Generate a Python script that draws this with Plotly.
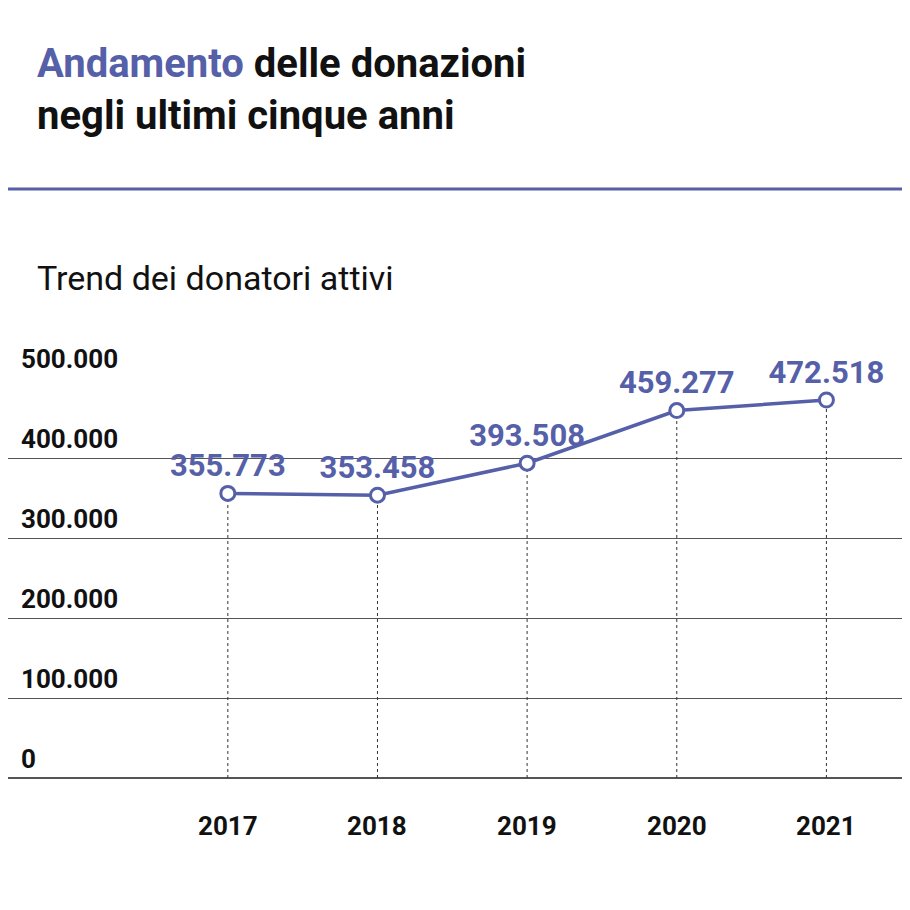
import plotly.graph_objects as go

years = ["2017", "2018", "2019", "2020", "2021"]
donors = [355773, 353458, 393508, 459277, 472518]
labels = ["355.773", "353.458", "393.508", "459.277", "472.518"]
y_ticks = [0, 100000, 200000, 300000, 400000, 500000]
y_tick_labels = ["0", "100.000", "200.000", "300.000", "400.000", "500.000"]

blue = "#5560a8"
font = "Roboto"
xs = list(range(len(years)))

fig = go.Figure()

# dotted drop lines
for x, v in zip(xs, donors):
    fig.add_trace(go.Scatter(x=[x, x], y=[0, v], mode="lines",
                             line=dict(color="#333", width=1, dash="dot"),
                             hoverinfo="skip", showlegend=False))

fig.add_trace(go.Scatter(
    x=xs, y=donors, mode="lines+markers+text",
    line=dict(color=blue, width=3.5),
    marker=dict(size=14, color="white", line=dict(color=blue, width=3)),
    text=["<b>%s</b>" % t for t in labels], textposition="top center",
    textfont=dict(family=font, size=31, color=blue),
    cliponaxis=False, showlegend=False))

for v, t in zip(y_ticks, y_tick_labels):
    fig.add_annotation(x=0.012, xref="paper", y=v, yref="y", text="<b>%s</b>" % t,
                       showarrow=False, xanchor="left", yanchor="bottom", yshift=2,
                       font=dict(family=font, size=26, color="#111"))

for x, yr in zip(xs, years):
    fig.add_annotation(x=x, y=0, yref="y", text="<b>%s</b>" % yr, showarrow=False,
                       yanchor="middle", yshift=-48,
                       font=dict(family=font, size=26, color="#111"))

fig.add_annotation(x=0.03, xref="paper", y=1.85, yref="paper", xanchor="left", yanchor="top",
                   align="left", showarrow=False,
                   text="<b><span style='color:%s'>Andamento</span> delle donazioni<br>negli ultimi cinque anni</b>" % blue,
                   font=dict(family=font, size=40, color="#111"))
fig.add_annotation(x=0.03, xref="paper", y=1.25, yref="paper", xanchor="left", yanchor="middle",
                   showarrow=False, text="Trend dei donatori attivi",
                   font=dict(family=font, size=34, color="#111"))
fig.add_shape(type="line", xref="paper", yref="paper", x0=-0.02, x1=1.02, y0=1.4725, y1=1.4725,
              line=dict(color=blue, width=3))

fig.update_xaxes(range=[-1.469, 4.612], showgrid=False, showticklabels=False, zeroline=False)
fig.update_yaxes(range=[0, 500000], tickvals=y_ticks, showticklabels=False,
                 gridcolor="#555", gridwidth=1, zeroline=True, zerolinecolor="#555")
fig.update_layout(width=910, height=910, margin=dict(l=0, r=0, t=370, b=140),
                  plot_bgcolor="white", paper_bgcolor="white")
fig.write_html("out.html")
